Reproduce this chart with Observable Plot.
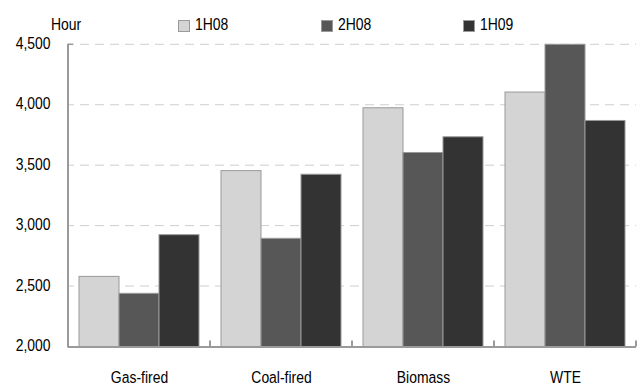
<!DOCTYPE html>
<html>
<head>
<meta charset="utf-8">
<script src="https://cdn.jsdelivr.net/npm/d3@7"></script>
<script src="https://cdn.jsdelivr.net/npm/@observablehq/plot@0.6"></script>
<style>
  body { margin: 0; background: #fff; font-family: 'Liberation Sans', Arial, sans-serif; }
  #legend { position: relative; width: 640px; height: 30px; font-size: 17px; color: #000; }
  #legend span { position: absolute; top: 15px; line-height: 20px; white-space: nowrap; }
  #legend span.txt { transform: scaleX(0.82); transform-origin: left center; }
  #legend span.sw { width: 10px; height: 10px; border: 1px solid #9a9a9a; top: 20px; line-height: 10px; }
  svg { display: block; }
</style>
</head>
<body>
<div id="legend"></div>
<div id="chart"></div>
<script>
const categories = ["Gas-fired", "Coal-fired", "Biomass", "WTE"];
const seriesNames = ["1H08", "2H08", "1H09"];
const values1H08 = [2580, 3455, 3975, 4105];
const values2H08 = [2440, 2895, 3605, 4500];
const values1H09 = [2925, 3425, 3735, 3870];
const yTicks = [2000, 2500, 3000, 3500, 4000, 4500];
const baseline = 2000;
const yMax = 4500;
const unitLabel = "Hour";
const colors = ["#d4d4d4", "#575757", "#333333"];

const seriesValues = [values1H08, values2H08, values1H09];
const data = [];
categories.forEach((c, i) => {
  seriesNames.forEach((s, j) => data.push({category: c, series: s, value: seriesValues[j][i]}));
});

// legend (HTML, above the SVG)
const legend = document.getElementById("legend");
const hour = document.createElement("span");
hour.className = "txt"; hour.textContent = unitLabel; hour.style.left = "51px";
legend.appendChild(hour);
const legendX = [178, 321, 463];
seriesNames.forEach((s, j) => {
  const sw = document.createElement("span");
  sw.className = "sw"; sw.style.left = legendX[j] + "px"; sw.style.background = colors[j];
  legend.appendChild(sw);
  const t = document.createElement("span");
  t.className = "txt"; t.textContent = s; t.style.left = (legendX[j] + 17) + "px";
  legend.appendChild(t);
});

const plot = Plot.plot({
  width: 640,
  height: 355,
  marginTop: 14.3,
  marginBottom: 38.5,
  marginLeft: 68,
  marginRight: 4,
  style: {fontFamily: "'Liberation Sans', Arial, sans-serif", fontSize: "17px", color: "#000", background: "#fff"},
  fx: {domain: categories, padding: 0, label: null},
  x: {domain: seriesNames, paddingInner: 0, paddingOuter: 0.246, axis: null},
  y: {domain: [baseline, yMax], label: null},
  color: {domain: seriesNames, range: colors},
  marks: [
    Plot.barY(data, {fx: "category", x: "series", y1: baseline, y2: "value", fill: "series", stroke: "#999", strokeWidth: 1}),
    Plot.ruleY([baseline], {stroke: "#9a9a9a", strokeWidth: 2}),
    Plot.axisY(yTicks, {tickSize: 0, tickPadding: 18, dy: -1.5, tickFormat: d3.format(","), label: null, fill: "#000"}),
    Plot.axisFx({anchor: "bottom", tickSize: 0, tickPadding: 23.5, label: null, fill: "#000"})
  ]
});

const fx = plot.scale("fx");
const y = plot.scale("y");
const svg = d3.select(plot);

// narrow the type (Arial Narrow look): scale each label horizontally around its anchor
svg.selectAll("text").each(function () {
  const t = this.getAttribute("transform");
  if (t) this.setAttribute("transform", t + " scale(0.82,1)");
  else {
    const x = +this.getAttribute("x") || 0, yy = +this.getAttribute("y") || 0;
    this.setAttribute("x", 0); this.setAttribute("y", 0);
    this.setAttribute("transform", `translate(${x},${yy}) scale(0.82,1)`);
  }
});

// continuous dashed gridlines behind the bars, from the plot's own scales
const xLeft = fx.apply(categories[0]);
const xRight = fx.apply(categories[categories.length - 1]) + fx.bandwidth;
const grid = svg.insert("g", ":first-child")
  .attr("stroke", "#cfcfcf").attr("stroke-width", 1)
  .attr("stroke-dasharray", "9,6").attr("stroke-dashoffset", 3);
yTicks.filter(v => v !== baseline).forEach(v => {
  grid.append("line").attr("x1", xLeft).attr("x2", xRight).attr("y1", y.apply(v)).attr("y2", y.apply(v));
});

// y axis line and group separator ticks
const g = svg.append("g").attr("stroke", "#9a9a9a").attr("stroke-width", 2);
g.append("line").attr("x1", xLeft).attr("x2", xLeft).attr("y1", y.apply(yMax) - 0.5).attr("y2", y.apply(baseline) + 1);
g.append("line").attr("x1", xLeft).attr("x2", xLeft + 5).attr("y1", y.apply(yMax)).attr("y2", y.apply(yMax)).attr("stroke-width", 1.5);
categories.forEach(c => {
  const xe = fx.apply(c) + fx.bandwidth;
  g.append("line").attr("x1", xe).attr("x2", xe).attr("y1", y.apply(baseline) - 6).attr("y2", y.apply(baseline));
});

document.getElementById("chart").appendChild(plot);
</script>
</body>
</html>
